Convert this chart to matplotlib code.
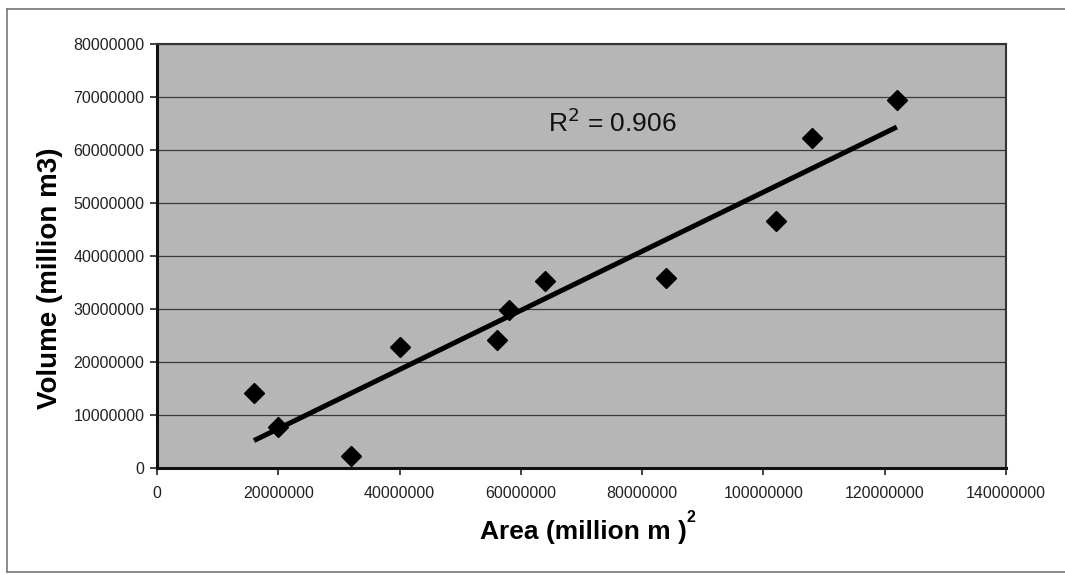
import numpy as np
import matplotlib
matplotlib.use("Agg")
import matplotlib.pyplot as plt
from matplotlib.lines import Line2D

plt.rcParams['font.family'] = ['Liberation Sans', 'DejaVu Sans']

# data (area in m2, volume in m3)
area = [16e6, 20e6, 32e6, 40e6, 56e6, 58e6, 64e6, 84e6, 102e6, 108e6, 122e6]
volume = [14.2e6, 7.8e6, 2.2e6, 22.9e6, 24.2e6, 29.8e6, 35.3e6, 35.8e6, 46.6e6, 62.2e6, 69.5e6]
x_ticks = [0, 20000000, 40000000, 60000000, 80000000, 100000000, 120000000, 140000000]
y_ticks = [0, 10000000, 20000000, 30000000, 40000000, 50000000, 60000000, 70000000, 80000000]
r2_label = "R$^2$ = 0.906"

fig = plt.figure(figsize=(10.65, 5.75), dpi=100)
ax = fig.add_axes([0.1474, 0.1861, 0.7972, 0.7374])
ax.set_facecolor('#b6b6b6')

# linear trendline
slope, icept = np.polyfit(area, volume, 1)
xs = np.array([min(area), max(area)])
ax.plot(xs, slope * xs + icept, color='black', lw=3.6, solid_capstyle='butt', zorder=3)
ax.plot(area, volume, 'D', color='black', markersize=10, zorder=4)

ax.set_xlim(0, 140000000)
ax.set_ylim(0, 80000000)
ax.set_xticks(x_ticks)
ax.set_yticks(y_ticks)
ax.set_xticklabels([str(t) for t in x_ticks], fontsize=11.5)
ax.set_yticklabels([str(t) for t in y_ticks], fontsize=11.5)
ax.tick_params(axis='x', direction='out', length=5, width=1.2, pad=8, colors='#222222')
ax.tick_params(axis='y', direction='out', length=5, width=1.2, pad=4, colors='#222222')
ax.yaxis.grid(True, color='#3a3a3a', lw=0.9)
ax.set_axisbelow(True)

for side in ['left', 'bottom']:
    ax.spines[side].set_linewidth(2.2)
    ax.spines[side].set_color('#111111')
for side in ['top', 'right']:
    ax.spines[side].set_linewidth(1.5)
    ax.spines[side].set_color('#333333')

ax.text(548 / 1065, 1 - 123 / 575, r2_label, transform=fig.transFigure,
        fontsize=19, va='center', ha='left', color='#111111')

# axis titles
fig.text(50 / 1065, 1 - 278 / 575, "Volume (million m3)", rotation=90,
         fontsize=20, fontweight='bold', ha='center', va='center')
fig.text(583 / 1065, 1 - 532 / 575, "Area (million m )", fontsize=19,
         fontweight='bold', ha='center', va='center')
fig.text(691 / 1065, 1 - 518 / 575, "2", fontsize=11.5, fontweight='bold',
         ha='center', va='center')

# outer chart frame: top, left and bottom edges only
for xd, yd in [([7, 1065], [9, 9]), ([7, 7], [9, 572]), ([7, 1065], [572, 572])]:
    fig.lines.append(Line2D([v / 1065 for v in xd], [1 - v / 575 for v in yd],
                            transform=fig.transFigure, color='#777777', lw=1.2))

fig.savefig('out.png', dpi=100)
